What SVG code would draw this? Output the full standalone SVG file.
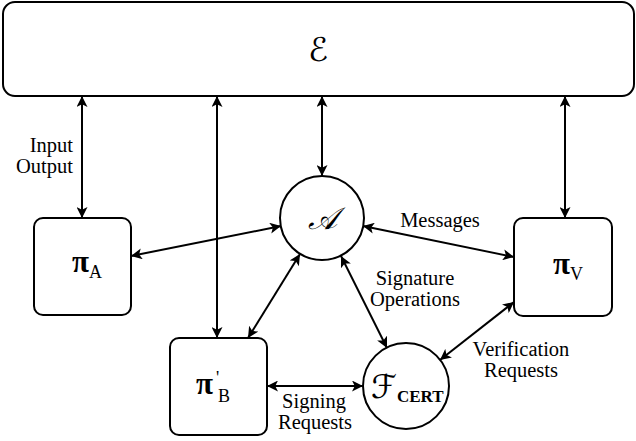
<svg xmlns="http://www.w3.org/2000/svg" width="636" height="441" viewBox="0 0 636 441">
<defs>
<marker id="ah" viewBox="0 0 10 10" refX="10" refY="5" markerWidth="5.5" markerHeight="5.5" orient="auto-start-reverse" markerUnits="strokeWidth">
<path d="M0,0 L10,5 L0,10 L2.5,5 Z" fill="#000"/>
</marker>
</defs>
<style>
.box{fill:#fff;stroke:#000;stroke-width:2}
.lbl{font-family:"Liberation Serif","Times New Roman",serif;font-size:20.5px;fill:#000}
.pi{font-family:"Liberation Serif","Times New Roman",serif;font-size:31px;font-weight:bold;fill:#000}
.sub{font-family:"Liberation Serif","Times New Roman",serif;font-size:18px;fill:#000}
.scr{font-family:"DejaVu Serif","DejaVu Sans","Noto Sans CJK SC",serif;font-style:italic;fill:#000}
.conn line{stroke:#000;stroke-width:2;marker-start:url(#ah);marker-end:url(#ah)}
</style>
<rect width="636" height="441" fill="#fff"/>
<g id="env">
<rect class="box" x="3" y="2" width="631" height="94" rx="12"/>
<text class="scr" x="318" y="61" font-size="33" text-anchor="middle">ℰ</text>
</g>
<g id="piA">
<rect class="box" x="34" y="218" width="97" height="97" rx="9"/>
<text x="72" y="272"><tspan class="pi">π</tspan><tspan class="sub" dy="6">A</tspan></text>
</g>
<g id="piB">
<rect class="box" x="170" y="338" width="97" height="97" rx="9"/>
<text class="pi" x="196" y="394">π</text>
<text class="sub" x="216" y="384" font-size="16">'</text>
<text class="sub" x="218" y="402">B</text>
</g>
<g id="piV">
<rect class="box" x="514" y="218" width="98" height="98" rx="9"/>
<text x="553" y="274"><tspan class="pi">π</tspan><tspan class="sub" dy="6">V</tspan></text>
</g>
<g id="adv">
<circle class="box" cx="322" cy="218" r="42"/>
<text class="scr" x="322" y="229" font-size="31" text-anchor="middle">𝒜</text>
</g>
<g id="fcert">
<circle class="box" cx="406" cy="386" r="43"/>
<text x="371" y="398"><tspan class="scr" font-size="33">ℱ</tspan><tspan font-family="Liberation Serif, serif" font-weight="bold" font-size="17" dy="4">CERT</tspan></text>
</g>
<g class="conn" id="connectors">
<line x1="82" y1="96" x2="82" y2="218"/>
<line x1="217" y1="96" x2="217" y2="338"/>
<line x1="322" y1="96" x2="322" y2="176"/>
<line x1="565" y1="96" x2="565" y2="218"/>
<line x1="131" y1="256" x2="281" y2="226"/>
<line x1="300" y1="254" x2="248" y2="338"/>
<line x1="341" y1="256" x2="387" y2="348"/>
<line x1="363" y1="226" x2="514" y2="257"/>
<line x1="267" y1="386" x2="363" y2="386"/>
<line x1="514" y1="302" x2="440" y2="360"/>
</g>
<g id="labels">
<text class="lbl" x="73" y="152" text-anchor="end">Input</text>
<text class="lbl" x="73" y="173" text-anchor="end">Output</text>
<text class="lbl" x="440" y="227" text-anchor="middle">Messages</text>
<text class="lbl" x="415" y="285" text-anchor="middle">Signature</text>
<text class="lbl" x="415" y="306" text-anchor="middle">Operations</text>
<text class="lbl" x="314" y="408" text-anchor="middle" font-size="20">Signing</text>
<text class="lbl" x="315" y="429" text-anchor="middle" font-size="20">Requests</text>
<text class="lbl" x="521" y="356" text-anchor="middle">Verification</text>
<text class="lbl" x="521" y="377" text-anchor="middle">Requests</text>
</g>
</svg>
